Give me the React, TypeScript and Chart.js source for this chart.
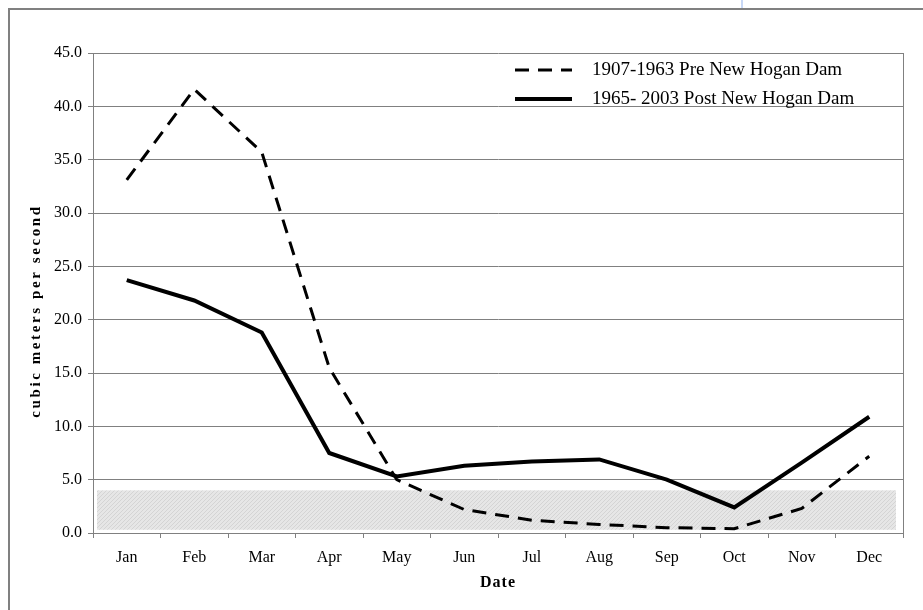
import React, { useEffect, useRef } from "react";
import { Chart, registerables } from "chart.js";

Chart.register(...registerables);

const months = ["Jan", "Feb", "Mar", "Apr", "May", "Jun", "Jul", "Aug", "Sep", "Oct", "Nov", "Dec"];
const preDam = [33.1, 41.6, 35.7, 15.5, 5.0, 2.2, 1.2, 0.8, 0.5, 0.4, 2.3, 7.2];
const postDam = [23.7, 21.8, 18.8, 7.5, 5.3, 6.3, 6.7, 6.9, 5.0, 2.4, 6.6, 10.9];
const seriesLabels = ["1907-1963 Pre New Hogan Dam", "1965- 2003 Post New Hogan Dam"];
const yAxisTitle = "cubic meters per second";
const xAxisTitle = "Date";
const yMin = 0;
const yMax = 45;
const yStep = 5;
const bandRange = [0.3, 4.0];

const FONT = "'Liberation Serif', 'Times New Roman', serif";
const GRID = "#808080";

function makePattern(ctx: CanvasRenderingContext2D) {
  const c = document.createElement("canvas");
  c.width = 8;
  c.height = 8;
  const p = c.getContext("2d")!;
  p.fillStyle = "#e6e6e6";
  p.fillRect(0, 0, 8, 8);
  p.fillStyle = "#d4d4d4";
  for (let i = 0; i < 8; i++) {
    p.fillRect((8 - i) % 8, i, 1, 1);
    p.fillRect((12 - i) % 8, i, 1, 1);
  }
  return ctx.createPattern(c, "repeat");
}

const decorPlugin = {
  id: "decor",
  beforeDatasetsDraw(chart: any) {
    const { ctx, chartArea, scales } = chart;
    const y = scales.y;
    ctx.save();
    const top = y.getPixelForValue(bandRange[1]);
    const bottom = y.getPixelForValue(bandRange[0]);
    const pat = makePattern(ctx);
    ctx.fillStyle = pat || "#e3e3e3";
    ctx.fillRect(chartArea.left + 4, top, chartArea.right - 7 - (chartArea.left + 4), bottom - top);
    ctx.strokeStyle = GRID;
    ctx.lineWidth = 1;
    ctx.beginPath();
    ctx.moveTo(chartArea.right + 0.5, chartArea.top);
    ctx.lineTo(chartArea.right + 0.5, chartArea.bottom);
    ctx.stroke();
    ctx.restore();
  },
  afterDatasetsDraw(chart: any) {
    const { ctx, chartArea } = chart;
    ctx.save();
    const lx0 = chartArea.left + 422;
    const lx1 = lx0 + 57;
    const tx = chartArea.left + 499;
    const rows = [chartArea.top + 17, chartArea.top + 46];
    chart.data.datasets.forEach((ds: any, i: number) => {
      const yy = rows[i];
      ctx.strokeStyle = ds.borderColor;
      ctx.lineWidth = ds.borderWidth;
      ctx.setLineDash(ds.borderDash || []);
      ctx.beginPath();
      ctx.moveTo(lx0, yy);
      ctx.lineTo(lx1, yy);
      ctx.stroke();
      ctx.setLineDash([]);
      ctx.fillStyle = "#000";
      ctx.font = `19px ${FONT}`;
      ctx.textAlign = "left";
      ctx.textBaseline = "middle";
      ctx.fillText(ds.label, tx, yy);
    });
    ctx.save();
    ctx.translate(26, (chartArea.top + chartArea.bottom) / 2 + 18);
    ctx.rotate(-Math.PI / 2);
    ctx.font = `bold 15px ${FONT}`;
    (ctx as any).letterSpacing = "2.6px";
    ctx.fillStyle = "#000";
    ctx.textAlign = "center";
    ctx.textBaseline = "middle";
    ctx.fillText(yAxisTitle, 0, 0);
    ctx.restore();
    ctx.font = `bold 16px ${FONT}`;
    (ctx as any).letterSpacing = "1px";
    ctx.fillStyle = "#000";
    ctx.textAlign = "center";
    ctx.textBaseline = "middle";
    ctx.fillText(xAxisTitle, (chartArea.left + chartArea.right) / 2, chartArea.bottom + 50);
    ctx.restore();
  },
};

export default function App() {
  const ref = useRef<HTMLCanvasElement | null>(null);
  useEffect(() => {
    if (!ref.current) return;
    const chart = new Chart(ref.current, {
      type: "line",
      data: {
        labels: months,
        datasets: [
          {
            label: seriesLabels[0],
            data: preDam,
            borderColor: "#000",
            borderWidth: 3,
            borderDash: [14, 9],
            pointRadius: 0,
            tension: 0,
            fill: false,
          },
          {
            label: seriesLabels[1],
            data: postDam,
            borderColor: "#000",
            borderWidth: 4,
            pointRadius: 0,
            tension: 0,
            fill: false,
          },
        ],
      },
      options: {
        animation: false,
        responsive: false,
        devicePixelRatio: 1,
        layout: { padding: { top: 43, right: 20, left: 0, bottom: 0 } },
        plugins: { legend: { display: false }, tooltip: { enabled: false } },
        scales: {
          x: {
            type: "category",
            offset: true,
            grid: { drawOnChartArea: false, offset: true, tickLength: 5, color: GRID },
            border: { color: GRID, width: 1 },
            ticks: { color: "#000", font: { family: FONT, size: 16 }, padding: 10, maxRotation: 0 },
            afterFit: (s: any) => {
              s.height = 77;
            },
          },
          y: {
            min: yMin,
            max: yMax,
            grid: { color: GRID, tickLength: 5 },
            border: { color: GRID, width: 1 },
            ticks: {
              stepSize: yStep,
              color: "#000",
              font: { family: FONT, size: 16 },
              padding: 6,
              callback: (v: any) => Number(v).toFixed(1),
            },
            afterFit: (s: any) => {
              s.width = 83;
            },
          },
        },
      },
      plugins: [decorPlugin],
    });
    return () => chart.destroy();
  }, []);
  return (
    <>
      <div
        style={{
          position: "fixed",
          left: 8,
          top: 8,
          width: 940,
          height: 640,
          borderLeft: "2px solid #808080",
          borderTop: "2px solid #808080",
          background: "#fff",
        }}
      >
        <canvas ref={ref} width={913} height={600} style={{ position: "absolute", left: 0, top: 0 }} />
      </div>
      <div
        style={{
          position: "fixed",
          left: 741,
          top: 0,
          width: 2,
          height: 8,
          background: "#c8d8f6",
        }}
      />
    </>
  );
}
